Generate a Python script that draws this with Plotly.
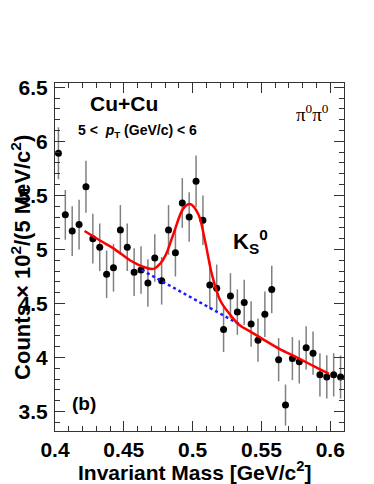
import plotly.graph_objects as go

# invariant mass bin centres (GeV/c^2), 5 MeV bins
mass = [0.4025, 0.4075, 0.4125, 0.4175, 0.4225, 0.4275, 0.4325, 0.4375,
        0.4425, 0.4475, 0.4525, 0.4575, 0.4625, 0.4675, 0.4725, 0.4775,
        0.4825, 0.4875, 0.4925, 0.4975, 0.5025, 0.5075, 0.5125, 0.5175,
        0.5225, 0.5275, 0.5325, 0.5375, 0.5425, 0.5475, 0.5525, 0.5575,
        0.5625, 0.5675, 0.5725, 0.5775, 0.5825, 0.5875, 0.5925, 0.5975,
        0.6025, 0.6075]
counts = [5.89, 5.32, 5.17, 5.23, 5.58, 5.10, 5.02, 4.77,
          4.83, 5.18, 5.02, 4.79, 4.81, 4.69, 4.92, 4.71,
          5.18, 4.97, 5.43, 5.30, 5.63, 5.27, 4.67, 4.64,
          4.26, 4.57, 4.42, 4.51, 4.31, 4.16, 4.40, 4.63,
          3.98, 3.56, 3.99, 3.96, 4.09, 4.04, 3.84, 3.82,
          3.84, 3.82]
errors = [0.24, 0.23, 0.23, 0.23, 0.24, 0.23, 0.22, 0.22,
          0.22, 0.23, 0.22, 0.22, 0.22, 0.22, 0.22, 0.22,
          0.23, 0.22, 0.23, 0.23, 0.24, 0.23, 0.22, 0.22,
          0.21, 0.21, 0.21, 0.21, 0.21, 0.20, 0.21, 0.22,
          0.20, 0.19, 0.20, 0.20, 0.20, 0.20, 0.20, 0.20,
          0.20, 0.20]

# fit (signal + background)
fit_x = [0.4215, 0.433, 0.4425, 0.4545, 0.464, 0.4715, 0.4765, 0.4805,
         0.486, 0.4933, 0.498, 0.504, 0.509, 0.514, 0.520, 0.527,
         0.534, 0.542, 0.551, 0.563, 0.576, 0.588, 0.599]
fit_y = [5.17, 5.08, 5.01, 4.90, 4.84, 4.82, 4.87, 4.95,
         5.14, 5.38, 5.42, 5.33, 5.08, 4.77, 4.53, 4.40,
         4.30, 4.24, 4.17, 4.08, 4.00, 3.92, 3.85]

# background under the peak
bkg_x = [0.463, 0.500, 0.535]
bkg_y = [4.81, 4.55, 4.30]

fig = go.Figure()
fig.add_trace(go.Scatter(
    x=mass, y=counts, mode="markers",
    marker=dict(color="black", size=7),
    error_y=dict(type="data", array=errors, color="#808080", thickness=1.5, width=0),
))
fig.add_trace(go.Scatter(x=bkg_x, y=bkg_y, mode="lines",
                         line=dict(color="#1a1aff", width=2.5, dash="dot")))
fig.add_trace(go.Scatter(x=fit_x, y=fit_y, mode="lines",
                         line=dict(color="#ff0000", width=2.5, shape="spline")))

axfont = dict(family="Liberation Sans, Arial", size=21, color="black", weight="bold")
fig.update_xaxes(
    range=[0.4, 0.61], tickvals=[0.4, 0.45, 0.5, 0.55, 0.6],
    ticktext=["0.4", "0.45", "0.5", "0.55", "0.6"],
    ticks="inside", ticklen=10, tickcolor="#333", mirror="allticks",
    showline=True, linecolor="#333", linewidth=1, showgrid=False, zeroline=False,
    minor=dict(dtick=0.01, ticks="inside", ticklen=5, tickcolor="#333"),
    tickfont=axfont, ticklabelstandoff=0,
)
fig.update_yaxes(
    range=[3.32, 6.54], tickvals=[3.5, 4, 4.5, 5, 5.5, 6, 6.5],
    ticks="inside", ticklen=10, tickcolor="#333", mirror="allticks",
    showline=True, linecolor="#333", linewidth=1, showgrid=False, zeroline=False,
    minor=dict(dtick=0.1, ticks="inside", ticklen=5, tickcolor="#333"),
    tickfont=axfont, ticklabelstandoff=2,
)


def label(text, x, y, size, **kw):
    font = dict(family="Liberation Sans, Arial", color="black", weight="bold", size=size)
    font.update(kw.pop("font", {}))
    return dict(text=text, xref="paper", yref="paper", x=x, y=y, showarrow=False,
                xanchor="center", yanchor="middle", font=font, **kw)


# the page adds an 8px body margin, so the figure is made 8px smaller
fig.update_layout(
    width=366, height=476,
    margin=dict(l=47, r=30, t=75, b=53),
    paper_bgcolor="white", plot_bgcolor="white",
    showlegend=False,
    annotations=[
        label("Counts × 10<sup>2</sup>/(5 MeV/c<sup>2</sup>)", -0.118, 0.5, 22, textangle=-90),
        label("Invariant Mass [GeV/c<sup>2</sup>]", 0.484, -0.114, 21),
        label("Cu+Cu", 0.24, 0.94, 21),
        label("5 <  <i>p</i><sub>T</sub> (GeV/c) < 6", 0.285, 0.862, 14),
        label("π<sup>0</sup>π<sup>0</sup>", 0.89, 0.915, 19,
              font=dict(family="Liberation Serif, Times New Roman", weight="normal")),
        label("K<sub>S</sub><sup>0</sup>", 0.675, 0.545, 22),
        label("(b)", 0.1, 0.08, 19),
    ],
)

fig.write_html("out.html")
